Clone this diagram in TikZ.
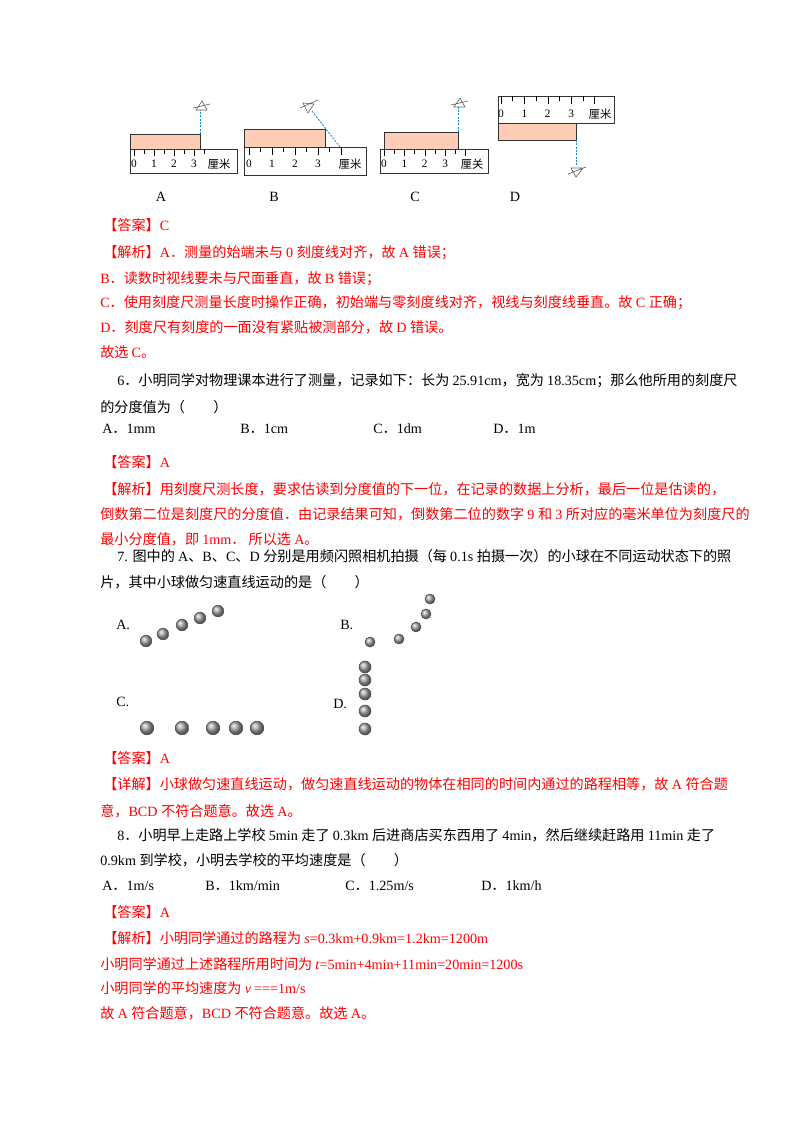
\documentclass[tikz,border=0pt]{standalone}
\usepackage{fontspec}
\setmainfont{Liberation Serif}
\newfontfamily\cjkf{Noto Sans CJK SC}
\newfontfamily\latf{Liberation Serif}
\makeatletter
\count@="4E00
\loop\ifnum\count@<"A000 \XeTeXcharclass\count@=1 \advance\count@ by 1 \repeat
\count@="3000
\loop\ifnum\count@<"3040 \XeTeXcharclass\count@=1 \advance\count@ by 1 \repeat
\count@="FF00
\loop\ifnum\count@<"FF20 \XeTeXcharclass\count@=1 \advance\count@ by 1 \repeat
\makeatother
\XeTeXinterchartokenstate=1
\XeTeXinterchartoks 0 1 = {\cjkf}
\XeTeXinterchartoks 4095 1 = {\cjkf}
\XeTeXinterchartoks 1 0 = {\latf}
\XeTeXinterchartoks 4095 0 = {\latf}
\begin{document}
\begin{tikzpicture}[x=0.75pt,y=-0.75pt,
  every node/.style={inner sep=0pt,font=\fontsize{10.6}{13}\selectfont},
  tl/.style={anchor=base west},
  rd/.style={anchor=base west,text=red},
  small/.style={font=\fontsize{8.5}{10}\selectfont},
  ruler/.style={draw=black!80,line width=0.5pt,fill=white},
  obj/.style={draw=black!80,line width=0.6pt,fill=orange!30!pink!60},
  sight/.style={draw=cyan!70!blue,dashed,dash pattern=on 1.5pt off 1pt,line width=0.6pt},
  eyes/.style={draw=black!60,line width=0.5pt},
  ballA/.style={ball color=gray!70,draw=black!70,line width=0.4pt}]
\useasboundingbox (0,0) rectangle (800,1132);
% ---------- rulers ----------
% A
\draw[obj] (130,134) rectangle (200,149);
\draw[ruler] (130,149) rectangle (237,173);
\foreach \i in {0,...,7}{\pgfmathsetmacro\xx{134+10*\i}
  \pgfmathtruncatemacro\ev{mod(\i,2)}
  \ifnum\ev=0 \draw (\xx,149)--(\xx,156);\else \draw (\xx,149)--(\xx,154);\fi}
\foreach \n [count=\k from 0] in {0,1,2,3}{\node[small] (ra\k) at (134+20*\k,164) {\n};}
\node[small] (rau) at (219,164) {厘米};
\draw[sight] (200,134)--(200,110);
\draw[eyes] (196,110)--(202,101)--(207,110)--cycle (193,108)--(210,104);
\node (la) at (161,197) {A};
% B
\draw[obj] (244,129) rectangle (325,147);
\draw[ruler] (244,147) rectangle (366,175);
\foreach \i in {0,...,8}{\pgfmathsetmacro\xx{249+11.5*\i}
  \pgfmathtruncatemacro\ev{mod(\i,2)}
  \ifnum\ev=0 \draw (\xx,147)--(\xx,155);\else \draw (\xx,147)--(\xx,152);\fi}
\foreach \n [count=\k from 0] in {0,1,2,3}{\node[small] (rb\k) at (249+23*\k,164) {\n};}
\node[small] (rbu) at (350,164) {厘米};
\draw[sight] (340,147)--(312,111);
\draw[eyes] (303,103)--(314,104)--(308,113)--cycle (300,108)--(318,100);
\node (lb) at (274,197) {B};
% C
\draw[obj] (384,132) rectangle (458,149);
\draw[ruler] (380,149) rectangle (488,173);
\foreach \i in {0,...,8}{\pgfmathsetmacro\xx{384+10.2*\i}
  \pgfmathtruncatemacro\ev{mod(\i,2)}
  \ifnum\ev=0 \draw (\xx,149)--(\xx,156);\else \draw (\xx,149)--(\xx,154);\fi}
\foreach \n [count=\k from 0] in {0,1,2,3}{\node[small] (rc\k) at (384+20.4*\k,164) {\n};}
\node[small] (rcu) at (472,164) {厘关};
\draw[sight] (458,132)--(458,107);
\draw[eyes] (454,107)--(460,98)--(465,107)--cycle (451,105)--(468,101);
\node (lc) at (415,197) {C};
% D
\draw[ruler] (498,96) rectangle (614,123);
\draw[obj] (498,123) rectangle (576,140);
\foreach \i in {0,...,8}{\pgfmathsetmacro\xx{501+11.7*\i}
  \pgfmathtruncatemacro\ev{mod(\i,2)}
  \ifnum\ev=0 \draw (\xx,96)--(\xx,104);\else \draw (\xx,96)--(\xx,101);\fi}
\foreach \n [count=\k from 0] in {0,1,2,3}{\node[small] (rd\k) at (501+23.4*\k,114) {\n};}
\node[small] (rdu) at (600,114) {厘米};
\draw[sight] (576,140)--(576,166);
\draw[eyes] (571,168)--(583,168)--(576,177)--cycle (568,174)--(586,167);
\node (ld) at (515,197) {D};
% ---------- text ----------
\node[rd] (t1) at (103,230) {【答案】C};
\node[rd] (t2) at (103,257) {【解析】A．测量的始端未与 0 刻度线对齐，故 A 错误；};
\node[rd] (t3) at (100,283) {B．读数时视线要未与尺面垂直，故 B 错误；};
\node[rd] (t4) at (100,307) {C．使用刻度尺测量长度时操作正确，初始端与零刻度线对齐，视线与刻度线垂直。故 C 正确；};
\node[rd] (t5) at (100,332) {D．刻度尺有刻度的一面没有紧贴被测部分，故 D 错误。};
\node[rd] (t6) at (100,357) {故选 C。};
\node[tl] (t7) at (117,385) {6．小明同学对物理课本进行了测量，记录如下：长为 25.91cm，宽为 18.35cm；那么他所用的刻度尺};
\node[tl] (t8) at (100,412) {的分度值为（\quad\quad）};
\node[tl] (o1) at (102,433) {A．1mm};
\node[tl] (o2) at (240,433) {B．1cm};
\node[tl] (o3) at (373,433) {C．1dm};
\node[tl] (o4) at (493,433) {D．1m};
\node[rd] (t9) at (103,467) {【答案】A};
\node[rd] (t10) at (103,494) {【解析】用刻度尺测长度，要求估读到分度值的下一位，在记录的数据上分析，最后一位是估读的，};
\node[rd] (t11) at (100,519) {倒数第二位是刻度尺的分度值．由记录结果可知，倒数第二位的数字 9 和 3 所对应的毫米单位为刻度尺的};
\node[rd] (t12) at (100,544) {最小分度值，即 1mm．\ 所以选 A。};
\node[tl] (t13) at (117,561) {7. 图中的 A、B、C、D 分别是用频闪照相机拍摄（每 0.1s 拍摄一次）的小球在不同运动状态下的照};
\node[tl] (t14) at (100,587) {片，其中小球做匀速直线运动的是（\quad\quad）};
% ---------- balls ----------
\node[tl] (bA) at (116,629) {A.};
\node[tl] (bB) at (340,629) {B.};
\node[tl] (bC) at (116,706) {C.};
\node[tl] (bD) at (333,708) {D.};
\foreach \x/\y [count=\k] in {146/641,163/634,182/625,200/618,218/611}
  \shade[ballA] (\x,\y) circle (5.8);
\foreach \x/\y [count=\k] in {370/642,399/639,416/627,426/614,430/599}
  \shade[ballA] (\x,\y) circle (5);
\foreach \x [count=\k] in {147,182,213,236,257}
  \shade[ballA] (\x,728) circle (6.8);
\foreach \y [count=\k] in {667,680,694,711,729}
  \shade[ballA] (365,\y) circle (6);
% ---------- text 2 ----------
\node[rd] (t15) at (103,763) {【答案】A};
\node[rd] (t16) at (103,789) {【详解】小球做匀速直线运动，做匀速直线运动的物体在相同的时间内通过的路程相等，故 A 符合题};
\node[rd] (t17) at (100,816) {意，BCD 不符合题意。故选 A。};
\node[tl] (t18) at (117,840) {8．小明早上走路上学校 5min 走了 0.3km 后进商店买东西用了 4min，然后继续赶路用 11min 走了};
\node[tl] (t19) at (100,865) {0.9km 到学校，小明去学校的平均速度是（\quad\quad）};
\node[tl] (p1) at (102,890) {A．1m/s};
\node[tl] (p2) at (205,890) {B．1km/min};
\node[tl] (p3) at (345,890) {C．1.25m/s};
\node[tl] (p4) at (481,890) {D．1km/h};
\node[rd] (t20) at (103,917) {【答案】A};
\node[rd] (t21) at (103,943) {【解析】小明同学通过的路程为 \textit{s}=0.3km+0.9km=1.2km=1200m};
\node[rd] (t22) at (100,969) {小明同学通过上述路程所用时间为 \textit{t}=5min+4min+11min=20min=1200s};
\node[rd] (t23) at (100,993) {小明同学的平均速度为 \textit{v} ===1m/s};
\node[rd] (t24) at (100,1018) {故 A 符合题意，BCD 不符合题意。故选 A。};
\end{tikzpicture}
\end{document}
